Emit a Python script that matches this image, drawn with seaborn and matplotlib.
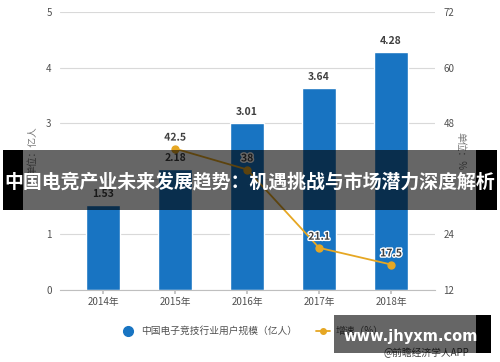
import matplotlib
matplotlib.use("Agg")
import matplotlib.pyplot as plt
import matplotlib.patheffects as pe
from matplotlib.patches import Rectangle
from matplotlib.lines import Line2D
import seaborn as sns
import pandas as pd

years = ["2014年", "2015年", "2016年", "2017年", "2018年"]
users = [1.53, 2.18, 3.01, 3.64, 4.28]
growth_years = ["2015年", "2016年", "2017年", "2018年"]
growth = [42.5, 38, 21.1, 17.5]
left_ticks = [0, 1, 2, 3, 4, 5]
right_ticks = [12, 24, 36, 48, 60, 72]
title = "中国电竞产业未来发展趋势：机遇挑战与市场潜力深度解析"
bar_name = "中国电子竞技行业用户规模（亿人）"
line_name = "增速（%）"

sns.set_theme(style="white")
plt.rcParams["font.family"] = ["Noto Sans CJK SC", "DejaVu Sans"]

BAR = "#1874c2"
LINE = "#e6a723"
TXT = "#505050"
GRID = "#d9d9d9"

fig = plt.figure(figsize=(5.0, 3.62), dpi=100)
ax = fig.add_axes([0.12, 1 - 290 / 362, 0.75, (290 - 12) / 362])

df_bar = pd.DataFrame({"year": years, "users": users})
sns.barplot(data=df_bar, x="year", y="users", order=years, color=BAR,
            width=0.47, saturation=1, ax=ax, zorder=2)
ax.set_ylim(0, 5)
ax.set_yticks(left_ticks)
ax.yaxis.grid(True, color=GRID, linewidth=0.8, zorder=0)
ax.set_axisbelow(True)
for s in ["top", "right", "left"]:
    ax.spines[s].set_visible(False)
ax.spines["bottom"].set_color("#bfbfbf")
ax.spines["bottom"].set_linewidth(0.8)
ax.tick_params(axis="y", length=0, labelsize=7, labelcolor=TXT, pad=6)
ax.tick_params(axis="x", length=3, color="#bfbfbf", labelsize=7,
               labelcolor=TXT, pad=2, bottom=True)
ax.set_xlabel("")
ax.set_ylabel("单位：亿人", fontsize=7, color="#777777", labelpad=6)
for c in ax.containers:
    ax.bar_label(c, fmt="%.2f", padding=4, fontsize=7.5, fontweight="bold",
                 color="#404040")

ax2 = ax.twinx()
df_line = pd.DataFrame({"year": growth_years, "growth": growth})
sns.pointplot(data=df_line, x="year", y="growth", order=years, color=LINE,
              errorbar=None, markers="o", markersize=5, linewidth=1.3, ax=ax2)
ax2.set_ylim(12, 72)
ax2.set_yticks(right_ticks)
ax2.set_xlabel("")
for s in ["top", "right", "left", "bottom"]:
    ax2.spines[s].set_visible(False)
ax2.tick_params(axis="y", length=0, labelsize=7, labelcolor=TXT, pad=6)
ax2.set_ylabel("单位：%", fontsize=7, color="#777777", rotation=270,
               labelpad=8)
for yr, v in zip(growth_years, growth):
    xi = years.index(yr)
    ax2.annotate(f"{v:g}", (xi, v), xytext=(0, 8), textcoords="offset points",
                 ha="center", va="center", fontsize=7.5, fontweight="bold",
                 color="#404040",
                 path_effects=[pe.withStroke(linewidth=2, foreground="white")])

ax.set_xlim(-0.6, 4.61)
ax2.set_xlim(-0.6, 4.61)

handles = [
    Line2D([], [], marker="o", linestyle="none", color=BAR, markersize=7),
    Line2D([], [], marker="o", color=LINE, markersize=4, linewidth=1.3),
]
fig.legend(handles, [bar_name, line_name], loc="center",
           bbox_to_anchor=(0.505, 1 - 331 / 362), ncol=2, frameon=False,
           fontsize=7, labelcolor=TXT, handlelength=1.4, handletextpad=0.6,
           columnspacing=2.0)

fig.text(0.852, 1 - 353 / 362, "@前瞻经济学人APP", fontsize=7,
         color="#404040", ha="center", va="center", zorder=15)


def px_rect(x0, y0, x1, y1, color, alpha, z):
    fig.add_artist(Rectangle((x0 / 500, 1 - y1 / 362), (x1 - x0) / 500,
                             (y1 - y0) / 362, transform=fig.transFigure,
                             facecolor=color, edgecolor="none", alpha=alpha,
                             zorder=z))


# banner
px_rect(23, 150, 476, 210, "black", 0.6, 20)
px_rect(3, 150, 23, 210, "black", 1.0, 20)
px_rect(476, 150, 497, 210, "black", 1.0, 20)
fig.text(0.5, 1 - 182 / 362, title, fontsize=13.6, fontweight="bold",
         color="white", ha="center", va="center", zorder=25)

# watermark box
px_rect(334, 315, 476, 353, "black", 0.6, 20)
px_rect(476, 315, 491, 353, "black", 1.0, 20)
fig.text(411 / 500, 1 - 336 / 362, "www.jhyxm.com", fontsize=10.5,
         fontweight="bold", color="white", ha="center", va="center",
         family="DejaVu Sans", zorder=25)

fig.savefig("out.png", dpi=100)
